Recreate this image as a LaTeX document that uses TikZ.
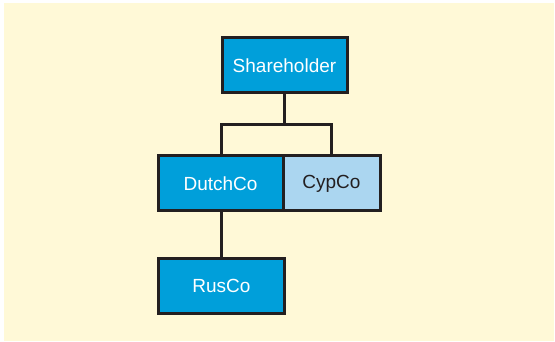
\documentclass[tikz,border=0pt]{standalone}
\usepackage{fontspec}
\setmainfont{Liberation Sans}
\definecolor{bg}{RGB}{255,249,215}
\definecolor{dblue}{RGB}{0,159,218}
\definecolor{lblue}{RGB}{171,214,240}
\definecolor{ink}{RGB}{35,31,32}
\begin{document}
\begin{tikzpicture}[x=1pt,y=-1pt,
  box/.style={draw=ink,line width=3pt,minimum height=55pt,inner sep=0pt,font=\fontsize{19}{21}\selectfont},
  dark/.style={box,fill=dblue,text=white},
  light/.style={box,fill=lblue,text=ink},
  conn/.style={draw=ink,line width=3pt}]
\useasboundingbox (0,0) rectangle (555,342);
\fill[white] (0,0) rectangle (555,342);
\fill[bg] (4,3) rectangle (554,341);
\node[dark,minimum width=125pt] (sh) at (284.5,65.5) {Shareholder};
\node[dark,minimum width=125pt] (dc) at (220.5,183.5) {DutchCo};
\node[light,minimum width=97pt] (cc) at (331.5,183.5) {CypCo};
\node[dark,minimum width=126pt] (rc) at (221.5,286) {RusCo};
\coordinate (j) at (284.5,125);
\draw[conn] (sh.south) -- (j);
\draw[conn] (dc.north -| 221,0) |- (j) -| (cc.north -| 331,0);
\draw[conn] (dc.south -| 221,0) -- (rc.north -| 221,0);
\end{tikzpicture}
\end{document}
